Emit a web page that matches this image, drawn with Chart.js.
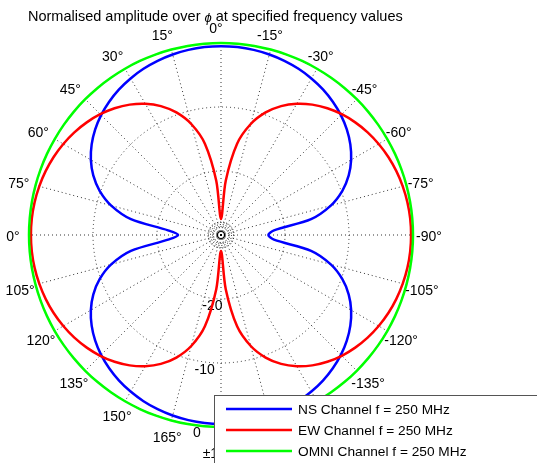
<!DOCTYPE html>
<html>
<head>
<meta charset="utf-8">
<script src="https://cdn.jsdelivr.net/npm/chart.js@4"></script>
<style>
html,body{margin:0;padding:0;background:#fff;}
#wrap{width:537px;height:463px;}
</style>
</head>
<body>
<div id="wrap"><canvas id="chart"></canvas></div>
<script>
// angle of each sample, in the order the radar walks them (clockwise from the top)
const angles = [0,-5,-10,-15,-20,-25,-30,-35,-40,-45,-50,-55,-60,-65,-70,-75,-80,-85,-90,-95,-100,-105,-110,-115,-120,-125,-130,-135,-140,-145,-150,-155,-160,-165,-170,-175,
  180,175,170,165,160,155,150,145,140,135,130,125,120,115,110,105,100,95,90,85,80,75,70,65,60,55,50,45,40,35,30,25,20,15,10,5];

// normalised amplitude in dB
const nsValues = [-0.5,-0.53,-0.63,-0.80,-1.04,-1.35,-1.75,-2.23,-2.82,-3.51,-4.34,-5.33,-6.52,-7.98,-9.82,-12.24,-15.71,-21.69,-22.6,
  -21.69,-15.71,-12.24,-9.82,-7.98,-6.52,-5.33,-4.34,-3.51,-2.82,-2.23,-1.75,-1.35,-1.04,-0.80,-0.63,-0.53,-0.5,
  -0.53,-0.63,-0.80,-1.04,-1.35,-1.75,-2.23,-2.82,-3.51,-4.34,-5.33,-6.52,-7.98,-9.82,-12.24,-15.71,-21.69,-23.3,
  -21.69,-15.71,-12.24,-9.82,-7.98,-6.52,-5.33,-4.34,-3.51,-2.82,-2.23,-1.75,-1.35,-1.04,-0.80,-0.63,-0.53];
const ewValues = [-27.5,-21.49,-15.51,-12.04,-9.62,-7.78,-6.32,-5.13,-4.14,-3.31,-2.62,-2.03,-1.55,-1.15,-0.84,-0.60,-0.43,-0.33,-0.3,
  -0.33,-0.43,-0.60,-0.84,-1.15,-1.55,-2.03,-2.62,-3.31,-4.14,-5.13,-6.32,-7.78,-9.62,-12.04,-15.51,-21.49,-27.5,
  -21.49,-15.51,-12.04,-9.62,-7.78,-6.32,-5.13,-4.14,-3.31,-2.62,-2.03,-1.55,-1.15,-0.84,-0.60,-0.43,-0.33,-0.3,
  -0.33,-0.43,-0.60,-0.84,-1.15,-1.55,-2.03,-2.62,-3.31,-4.14,-5.13,-6.32,-7.78,-9.62,-12.04,-15.51,-21.49];
const omniValues = [0,0,0,0,0,0,0,0,0,0,0,0,0,0,0,0,0,0,0,0,0,0,0,0,0,0,0,0,0,0,0,0,0,0,0,0,
  0,0,0,0,0,0,0,0,0,0,0,0,0,0,0,0,0,0,0,0,0,0,0,0,0,0,0,0,0,0,0,0,0,0,0,0];

const seriesNames = ['NS Channel f = 250 MHz', 'EW Channel f = 250 MHz', 'OMNI Channel f = 250 MHz'];
const seriesColors = ['#0000ff', '#ff0000', '#00ff00'];

// spoke labels every 15 degrees, clockwise from the top (as printed on the plot)
const angleTickLabels = ['0°','-15°','-30°','-45°','-60°','-75°','-90°','-105°','-120°','-135°','-150°','-165°',
  '±180°','165°','150°','135°','120°','105°','0°','75°','60°','45°','30°','15°'];
const radialTicks = [-20, -10, 0];
const titleParts = ['Normalised amplitude over ', 'ϕ', ' at specified frequency values'];

const FONT = '"Liberation Sans", Arial, sans-serif';

const polarDecor = {
  id: 'polarDecor',
  beforeDatasetsDraw(chart) {
    const ctx = chart.ctx;
    const r = chart.scales.r;
    ctx.save();
    // little rings right at the centre
    ctx.strokeStyle = '#000';
    ctx.lineWidth = 1.2;
    ctx.beginPath();
    ctx.arc(r.xCenter, r.yCenter, 3.5, 0, Math.PI * 2);
    ctx.stroke();
    ctx.lineWidth = 1;
    ctx.setLineDash([1, 2]);
    [7.5, 10.5, 13].forEach(rad => {
      ctx.beginPath();
      ctx.arc(r.xCenter, r.yCenter, rad, 0, Math.PI * 2);
      ctx.stroke();
    });
    ctx.setLineDash([]);

    ctx.font = '14px ' + FONT;
    ctx.fillStyle = '#000';
    ctx.textAlign = 'center';
    ctx.textBaseline = 'middle';
    angleTickLabels.forEach((t, k) => {
      const p = r.getPointPosition(k * 3, r.drawingArea + (k === 12 ? 25 : 16));
      const c = Math.cos(k * Math.PI / 12);
      const dx = c > 0 ? -5 * c : 0;
      ctx.fillText(t, p.x + dx, p.y + 2.5);
    });
    radialTicks.forEach(v => {
      const p = r.getPointPosition(37.4, r.getDistanceFromCenterForValue(v) + 6.5);
      ctx.fillText(String(v), p.x, p.y + 1.5);
    });
    ctx.restore();
  },
  afterDraw(chart) {
    const ctx = chart.ctx;
    ctx.save();
    // title
    ctx.fillStyle = '#000';
    ctx.textBaseline = 'middle';
    ctx.textAlign = 'left';
    let x = 28;
    const y = 17;
    titleParts.forEach((s, i) => {
      ctx.font = (i === 1 ? 'italic 13px ' : '14.5px ') + FONT;
      ctx.fillText(s, x, i === 1 ? y + 1 : y);
      x += ctx.measureText(s).width;
    });

    // legend box
    const lx = 214.5, ly = 395.5;
    ctx.fillStyle = '#fff';
    ctx.strokeStyle = '#555';
    ctx.lineWidth = 1;
    ctx.fillRect(lx, ly, 400, 100);
    ctx.strokeRect(lx, ly, 400, 100);
    ctx.font = '13.7px ' + FONT;
    seriesNames.forEach((name, i) => {
      const yy = 409 + i * 21;
      ctx.strokeStyle = seriesColors[i];
      ctx.lineWidth = 2.5;
      ctx.beginPath();
      ctx.moveTo(226, yy);
      ctx.lineTo(292, yy);
      ctx.stroke();
      ctx.fillStyle = '#000';
      ctx.fillText(name, 298, yy + 1);
    });
    ctx.restore();
  }
};

const datasetValues = [nsValues, ewValues, omniValues];

new Chart('chart', {
  type: 'radar',
  data: {
    labels: angles,
    datasets: datasetValues.map((vals, i) => ({
      label: seriesNames[i],
      data: vals,
      borderColor: seriesColors[i],
      backgroundColor: 'transparent',
      borderWidth: 2.5,
      pointRadius: 0,
      fill: false,
      tension: 0.3,
      order: 3 - i
    }))
  },
  options: {
    responsive: true,
    maintainAspectRatio: false,
    animation: false,
    layout: { padding: { left: 28, right: 123, top: 43, bottom: 35 } },
    plugins: {
      legend: { display: false },
      title: { display: false },
      tooltip: { enabled: false }
    },
    scales: {
      r: {
        min: -30,
        max: 0,
        ticks: { display: false, stepSize: 10 },
        pointLabels: { display: false },
        grid: {
          circular: true,
          color: ctx => ctx.tick && ctx.tick.value === 0 ? '#000' : 'rgba(0,0,0,0.8)',
          lineWidth: 1
        },
        border: {
          dash: ctx => ctx.tick && ctx.tick.value === 0 ? [] : [1, 3]
        },
        angleLines: {
          display: true,
          color: ctx => ctx.index % 3 === 0 ? 'rgba(0,0,0,0.8)' : 'rgba(0,0,0,0)',
          lineWidth: 1,
          borderDash: [1, 3]
        }
      }
    }
  },
  plugins: [polarDecor]
});
</script>
</body>
</html>
